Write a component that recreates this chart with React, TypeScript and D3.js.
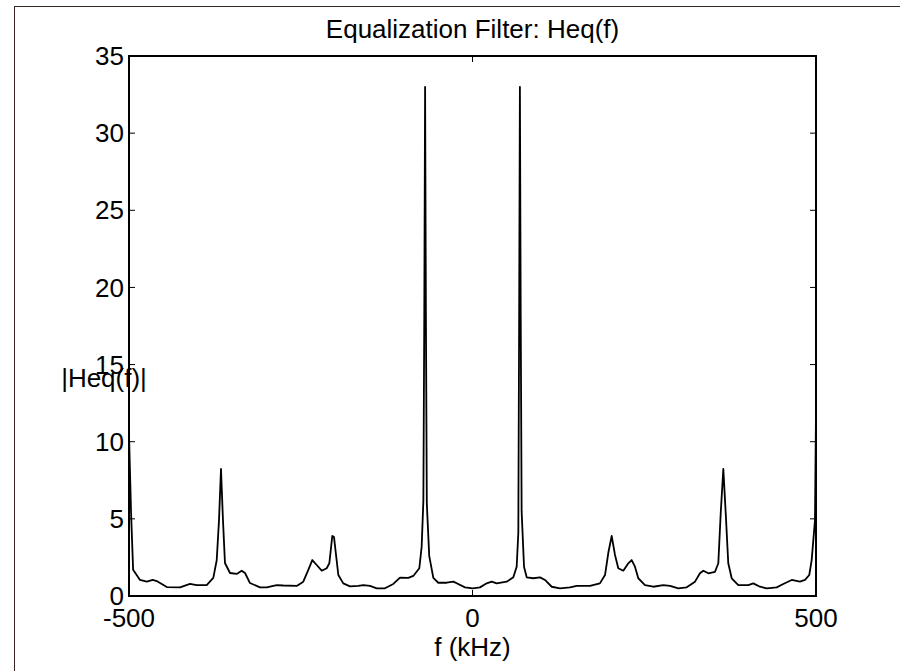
import React from "react";
import * as d3 from "d3";

// frequency (kHz)
const freqs: number[] = [
  -500, -497, -494, -484, -474, -465.5, -459.7, -445, -425.8, -411.2, -401.5, -386.9, -377.3, -372.3, -369,
  -366.1, -363.2, -360.3, -353, -343.2, -336, -331.1, -323.9, -309.3, -299.6, -285, -275.4, -255.9, -246.3,
  -239, -233.2, -226.8, -219.5, -212.2, -208.4, -204.1, -201.6, -195.3, -188.1, -178.3, -166.2, -158.9,
  -149.2, -139.4, -127.4, -115.3, -105.5, -93.4, -86.2, -77.4, -74, -71.5, -70.2, -69, -67.8, -66.5, -63,
  -57, -49.8, -37.6, -27.9, -20.7, -10.9, 0.3, 10.9, 20.7, 28, 35.2, 49.8, 59.4, 64.3, 66.7, 67.9, 69, 70.2,
  71.5, 75, 78.9, 88.5, 98.3, 105.5, 115.3, 127.4, 141.9, 151.7, 171, 185.4, 192.9, 197.7, 202.6, 207.4,
  212.2, 219.5, 226.8, 231.7, 236.5, 241.3, 251.1, 263.2, 277.7, 287.5, 299.6, 311.8, 323.9, 331.1, 336,
  343.2, 353, 357.8, 361.3, 365.1, 368.6, 372.3, 377.3, 386.9, 401.5, 408.7, 418.5, 428.2, 442.8, 452.4,
  464.6, 476.7, 484, 490.2, 493.7, 498.5, 500,
];

// |Heq(f)|
const magnitude: number[] = [
  10.5, 5.4, 1.7, 1.04, 0.93, 1.04, 0.97, 0.58, 0.56, 0.78, 0.71, 0.71, 1.17, 2.33, 4.9,
  8.23, 4.9, 2.14, 1.49, 1.43, 1.64, 1.49, 0.84, 0.56, 0.56, 0.71, 0.68, 0.65, 0.93,
  1.69, 2.33, 2.01, 1.64, 1.8, 2.12, 3.89, 3.82, 1.36, 0.82, 0.62, 0.65, 0.71,
  0.65, 0.5, 0.5, 0.78, 1.19, 1.17, 1.3, 1.8, 3.2, 6.2, 18, 33.0, 18, 6.0, 2.6,
  1.17, 0.86, 0.86, 0.93, 0.78, 0.56, 0.5, 0.56, 0.82, 0.93, 0.82, 0.93, 1.21, 1.9, 4.1, 18, 33.0, 18,
  5.5, 1.9, 1.21, 1.15, 1.21, 1.04, 0.6, 0.5, 0.56, 0.65, 0.65, 0.82, 1.36, 2.8, 3.89, 2.66,
  1.8, 1.64, 2.12, 2.33, 1.9, 1.15, 0.71, 0.6, 0.71, 0.65, 0.5, 0.56, 0.93, 1.47, 1.64,
  1.47, 1.57, 2.12, 5.36, 8.23, 5.36, 2.12, 1.15, 0.71, 0.71, 0.82, 0.6, 0.5, 0.56, 0.78,
  1.04, 0.93, 1.04, 1.36, 2.33, 4.9, 12,
];

const xTicks: number[] = [-500, 0, 500];
const yTicks: number[] = [0, 5, 10, 15, 20, 25, 30, 35];

const title = "Equalization Filter: Heq(f)";
const xLabel = "f (kHz)";
const yLabel = "|Heq(f)|";

export default function App() {
  const W = 900;
  const H = 671;
  const left = 129;
  const right = 816;
  const top = 56;
  const bottom = 596;
  const x = d3.scaleLinear().domain([-500, 500]).range([left, right]);
  const y = d3.scaleLinear().domain([0, 35]).range([bottom, top]);
  const pts: [number, number][] = freqs.map((f, i) => [f, magnitude[i]]);
  const line = d3
    .line<[number, number]>()
    .x((d) => x(d[0]))
    .y((d) => y(d[1]));
  const font = "'Liberation Sans', Arial, sans-serif";
  const fs = 26;
  const tl = 6;
  return (
    <svg
      width={W}
      height={H}
      style={{ position: "absolute", left: 0, top: 0, background: "#fff" }}
      fontFamily={font}
    >
      <rect x={0} y={0} width={W} height={H} fill="#fff" />
      <rect x={14.5} y={6.5} width={W + 20} height={H + 20} fill="none" stroke="#3a2424" strokeWidth={1} />
      <path d={line(pts) || ""} fill="none" stroke="#000" strokeWidth={1.8} strokeLinejoin="round" />
      {yTicks.map((t) => (
        <g key={"y" + t}>
          <line x1={left} x2={left + tl} y1={y(t)} y2={y(t)} stroke="#000" strokeWidth={1} />
          <line x1={right} x2={right - tl} y1={y(t)} y2={y(t)} stroke="#000" strokeWidth={1} />
          <text x={left - 5} y={y(t)} dy="0.35em" textAnchor="end" fontSize={fs} fill="#000">
            {t}
          </text>
        </g>
      ))}
      {xTicks.map((t) => (
        <g key={"x" + t}>
          <line x1={x(t)} x2={x(t)} y1={bottom} y2={bottom - tl} stroke="#000" strokeWidth={1} />
          <line x1={x(t)} x2={x(t)} y1={top} y2={top + tl} stroke="#000" strokeWidth={1} />
          <text x={x(t)} y={bottom + 31} textAnchor="middle" fontSize={fs} fill="#000">
            {t}
          </text>
        </g>
      ))}
      <rect x={left} y={top} width={right - left} height={bottom - top} fill="none" stroke="#000" strokeWidth={2} />
      <text x={(left + right) / 2} y={38} textAnchor="middle" fontSize={fs} fill="#000">
        {title}
      </text>
      <text x={(left + right) / 2} y={656} textAnchor="middle" fontSize={fs} fill="#000">
        {xLabel}
      </text>
      <text x={104} y={387} textAnchor="middle" fontSize={fs} fill="#000">
        {yLabel}
      </text>
    </svg>
  );
}
